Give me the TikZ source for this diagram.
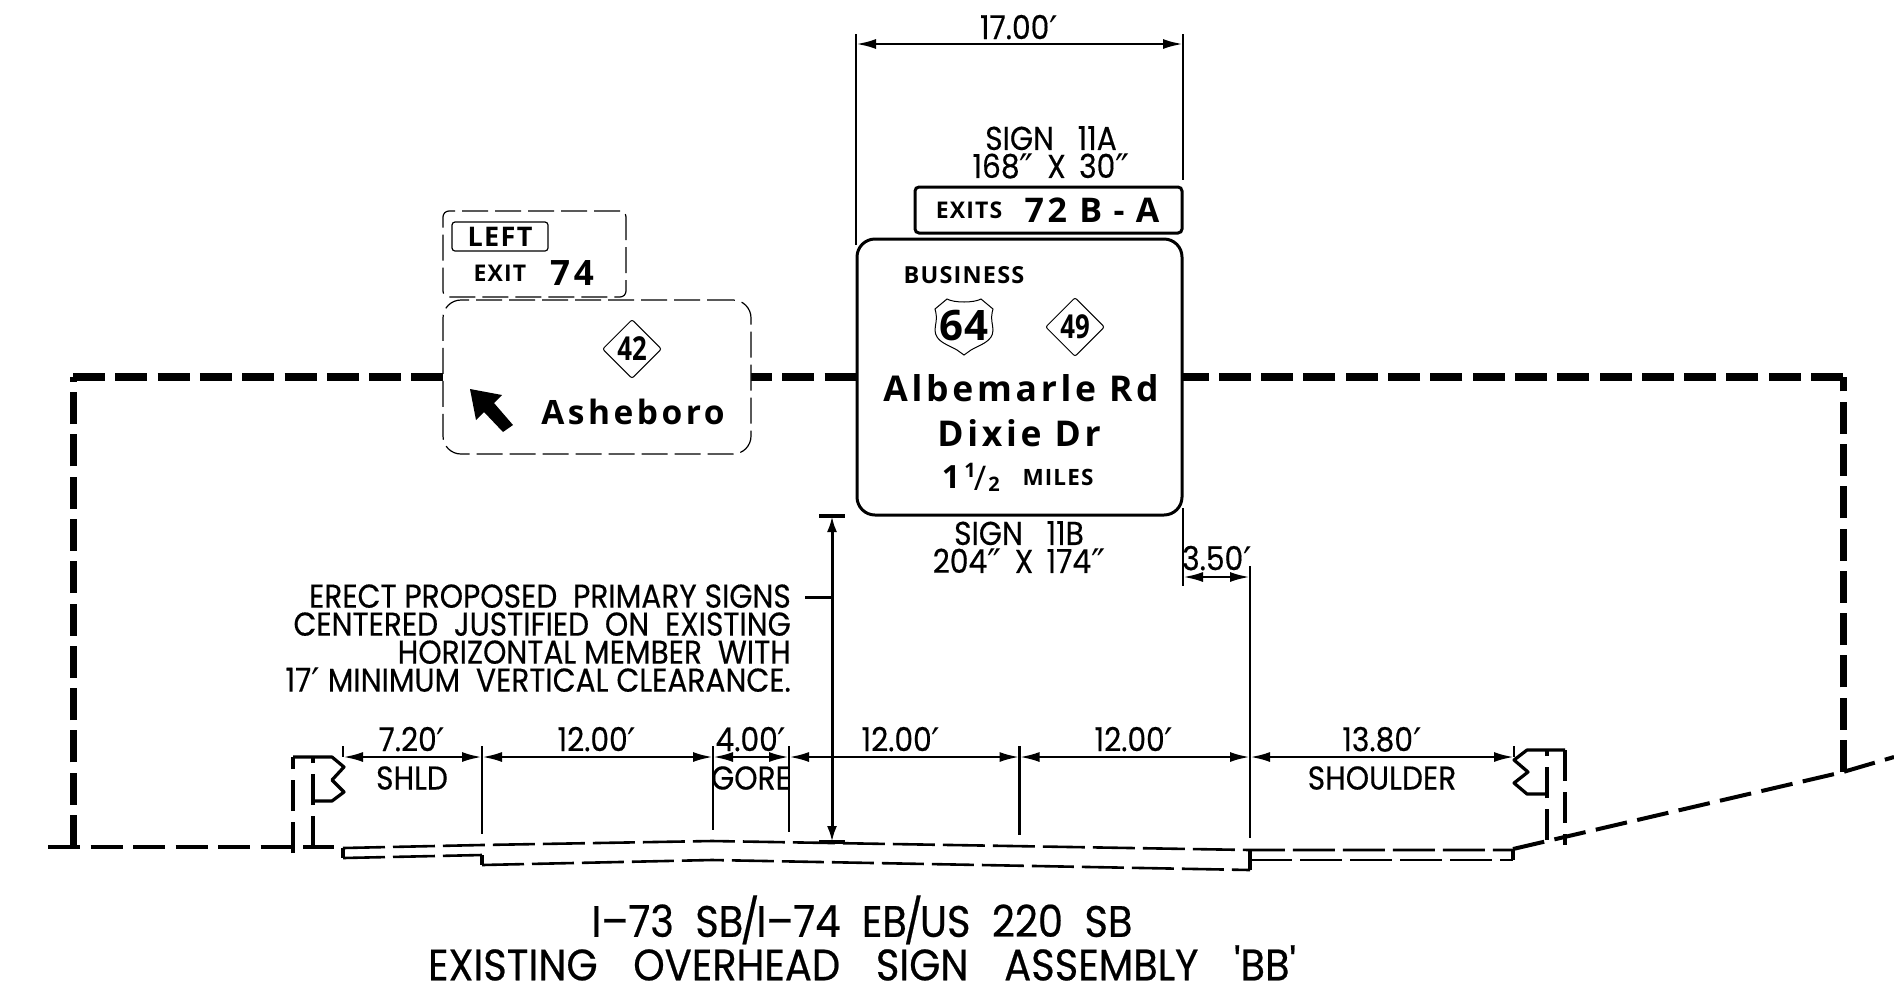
\documentclass[tikz,border=0pt]{standalone}
\usepackage{fontspec}
\usepackage{tikz}
\usetikzlibrary{shapes,arrows.meta}
\newfontfamily\notefam[FakeStretch=0.90,FakeBold=0.4]{Poppins}
\newfontfamily\titlefam[FakeStretch=0.91,FakeBold=0.5]{Poppins}
\newfontfamily\primefam{DejaVu Sans}
\newfontfamily\signfam[LetterSpace=10.5]{Open Sans}
\newfontfamily\plainfam[LetterSpace=4]{Open Sans}
\newfontfamily\routefam[FakeStretch=0.78]{Open Sans}
\newfontfamily\labelfam[LetterSpace=5]{Open Sans}
\newcommand{\notefont}[1]{\notefam\fontsize{#1}{28}\selectfont}
\newcommand{\signfont}[1]{\signfam\bfseries\fontsize{#1}{#1}\selectfont}
\newcommand{\plainfont}[1]{\plainfam\bfseries\fontsize{#1}{#1}\selectfont}
\newcommand{\smallsign}[1]{\labelfam\fontsize{#1}{#1}\selectfont\bfseries}
\newcommand{\ft}{\raisebox{-4pt}{\primefam\fontsize{38}{38}\selectfont ′}}
\newcommand{\inch}{\raisebox{-4pt}{\primefam\fontsize{38}{38}\selectfont ″}}
\tikzset{
    notetext/.style={font=\notefont{33}, inner sep=0pt, align=center},
    titletext/.style={font=\titlefam\fontsize{44}{37}\selectfont, inner sep=0pt, align=center},
    beamline/.style={line width=8pt, dash pattern=on 32pt off 10.3pt},
    columnline/.style={line width=7pt, dash pattern=on 32pt off 10.3pt},
    groundline/.style={line width=4pt, dash pattern=on 32pt off 10.5pt},
    railline/.style={line width=3.2pt, line join=round},
    railpost/.style={line width=3.2pt, dash pattern=on 31pt off 11pt},
    paveline/.style={line width=2.6pt, dash pattern=on 42pt off 8pt},
    extline/.style={line width=2.6pt},
    dimline/.style={line width=2.6pt, {Latex[length=20pt,width=10pt]}-{Latex[length=20pt,width=10pt]}},
    signbox/.style={draw, fill=white, line width=3pt, rounded corners=18pt},
    tabbox/.style={draw, fill=white, line width=3pt, rounded corners=4pt},
    ghostbox/.style={draw, fill=white, line width=1.2pt, rounded corners=18pt, dash pattern=on 26pt off 7pt},
    ghosttab/.style={draw, fill=white, line width=1.2pt, rounded corners=6pt, dash pattern=on 26pt off 7pt},
    routemark/.style={draw, fill=white, diamond, aspect=1, line width=1pt, minimum size=59pt, inner sep=0pt, rounded corners=2pt, font=\routefam\fontsize{33}{33}\selectfont\bfseries},
}
\begin{document}
\begin{tikzpicture}[x=1pt,y=-1pt]
    \useasboundingbox (0,0) rectangle (1894,994);
    \coordinate (colLb) at (73,847);
    \coordinate (colLt) at (73,377);
    \coordinate (colRt) at (1843,377);
    \coordinate (colRb) at (1843,772);
    \coordinate (beamA) at (443,377);
    \coordinate (beamB) at (751,377);
    \coordinate (beamC) at (857,377);
    \coordinate (beamD) at (1183,377);
    \draw[columnline] (colLb) -- (colLt);
    \draw[columnline] (colRb) -- (colRt);
    \draw[beamline] (colLt) -- (beamA);
    \draw[beamline, dash phase=11pt] (beamB) -- (beamC);
    \draw[beamline] (colRt) -- (beamD);

    \coordinate (gndLa) at (48,847);
    \coordinate (gndLb) at (334,847);
    \coordinate (gndRa) at (1513,849);
    \coordinate (gndRb) at (1843,772);
    \coordinate (gndRc) at (1894,757);
    \draw[groundline] (gndLa) -- (gndLb);
    \draw[groundline] (gndRa) -- (gndRb) -- (gndRc);

    \coordinate (railLa) at (293,757);
    \coordinate (railLb) at (293,853);
    \coordinate (railLc) at (313,757);
    \coordinate (railLd) at (313,847);
    \draw[railpost] (railLb) -- (railLa);
    \draw[railpost] (railLd) -- (railLc);
    \draw[railline] (railLa) -- (332,757) -- (344,767) -- (332,780) -- (344,792) -- (332,801) -- (313,801);
    \coordinate (railRa) at (1565,750);
    \coordinate (railRb) at (1565,845);
    \coordinate (railRc) at (1547,750);
    \coordinate (railRd) at (1547,840);
    \draw[railpost] (railRa) -- (railRb);
    \draw[railpost] (railRd) -- (railRc);
    \draw[railline] (railRa) -- (1527,750) -- (1514,760) -- (1528,772) -- (1514,783) -- (1527,794) -- (1547,794);

    \coordinate (paveA) at (343,848);
    \coordinate (paveB) at (482,845);
    \coordinate (paveC) at (712,841);
    \coordinate (paveD) at (1250,850);
    \coordinate (paveE) at (1513,850);
    \coordinate (paveF) at (343,858);
    \coordinate (paveG) at (482,855);
    \coordinate (paveH) at (482,865);
    \coordinate (paveI) at (712,860);
    \coordinate (paveJ) at (1250,870);
    \coordinate (paveK) at (1250,860);
    \coordinate (paveL) at (1513,860);
    \draw[paveline] (paveA) -- (paveB) -- (paveC) -- (paveD) -- (paveE);
    \draw[paveline] (paveH) -- (paveI) -- (paveJ);
    \draw[paveline] (paveF) -- (paveG);
    \draw[paveline] (paveK) -- (paveL);
    \draw[railline] (paveA) -- (paveF) (paveG) -- (paveH) (paveD) -- (paveJ) (paveE) -- (paveL);

    \node[ghosttab, minimum width=183pt, minimum height=86pt] (tabLeft) at (534.5,254) {};
    \node[draw, line width=1.2pt, rounded corners=3pt, minimum width=96pt, minimum height=29pt, inner sep=0pt, font=\smallsign{27}] (tabWord) at (500,236.5) {LEFT};
    \node[inner sep=0pt, font=\smallsign{23}] (tabExit) at (500,273) {EXIT};
    \node[inner sep=0pt, font=\signfont{35}] (tabNum) at (572,273) {74};
    \node[ghostbox, minimum width=308pt, minimum height=154pt] (signLeft) at (597,377) {};
    \node[routemark] (routeB) at (632,349) {42};
    \node[inner sep=0pt, font=\signfont{33.5}] (placeB) at (633,412) {Asheboro};
    \fill (470,389) -- (502,395) -- (494,403) -- (513,425) -- (503,432) -- (484,412) -- (476,420) -- cycle;

    \node[signbox, minimum width=325pt, minimum height=276pt] (signMain) at (1019.5,377) {};
    \node[tabbox, minimum width=267pt, minimum height=46pt] (signTab) at (1048.5,210) {};
    \node[inner sep=0pt, font=\smallsign{23}] (tabWordB) at (969,210) {EXITS};
    \node[inner sep=0pt, font=\signfont{34}] (tabNumB) at (1092,210) {72~B\,\,-\,\,A};
    \node[inner sep=0pt, font=\smallsign{23.5}] (busWord) at (964,275) {BUSINESS};
    \draw[line width=1pt, fill=white, shift={(964,327)}] (-29,-18) -- (-17,-28) .. controls (-10,-24) and (10,-24) .. (17,-28) -- (29,-18) .. controls (26,-8) and (29,-2) .. (29,3) .. controls (29,15) and (15,18) .. (7,23) -- (0,28) -- (-7,23) .. controls (-15,18) and (-29,15) .. (-29,3) .. controls (-29,-2) and (-26,-8) .. (-29,-18) -- cycle;
    \node[inner sep=0pt, font=\plainfont{42}] (routeUS) at (964,326) {64};
    \node[routemark] (routeNC) at (1075,327) {49};
    \node[inner sep=0pt, font=\signfont{35.5}] (placeA) at (1021,388) {Albemarle Rd};
    \node[inner sep=0pt, font=\signfont{35.5}] (placeC) at (1019,433) {Dixie Dr};
    \node[inner sep=0pt, font=\plainfont{32}] (milesA) at (951,477) {1};
    \node[inner sep=0pt, font=\plainfont{20}] (milesB) at (970,470) {1};
    \node[inner sep=0pt, font=\plainfam\fontsize{34}{34}\selectfont] (milesC) at (980,478) {/};
    \node[inner sep=0pt, font=\plainfont{20}] (milesD) at (994,484) {2};
    \node[inner sep=0pt, font=\smallsign{22.5}] (milesE) at (1058,477) {MILES};

    \node[notetext] (signLblA) at (1051,154) {SIGN~~~11A\\168\inch~\,X~\,30\inch};
    \node[notetext] (signLblB) at (1019,549) {SIGN~~~11B\\204\inch~\,X~\,174\inch};
    \node[notetext, align=right, anchor=east] (noteErect) at (791,640) {ERECT~PROPOSED~~PRIMARY~SIGNS\\CENTERED~~JUSTIFIED~~ON~~EXISTING\\HORIZONTAL~MEMBER~~WITH\\17\ft{} MINIMUM~~VERTICAL~CLEARANCE.};
    \node[titletext] (titleMain) at (862,938) {I–73~~SB\kern-3pt/\kern-3pt I–74~~EB\kern-3pt/\kern-3pt US~~220~~SB\\EXISTING~~~\kern3.6pt OVERHEAD~~~\kern3.6pt SIGN~~~\kern3.6pt ASSEMBLY~~~\kern3.6pt 'BB'};

    \coordinate (topA) at (856,34);
    \coordinate (topB) at (856,245);
    \coordinate (topC) at (1183,34);
    \coordinate (topD) at (1183,180);
    \coordinate (topE) at (856,44);
    \coordinate (topF) at (1183,44);
    \draw[extline] (topA) -- (topB);
    \draw[extline] (topC) -- (topD);
    \draw[dimline] (topE) -- (topF);
    \node[notetext] (lblTop) at (1019,29) {17.00\ft};

    \coordinate (sideA) at (1183,508);
    \coordinate (sideB) at (1183,586);
    \coordinate (sideC) at (1250,566);
    \coordinate (sideD) at (1250,838);
    \coordinate (sideE) at (1183,577);
    \coordinate (sideF) at (1250,577);
    \draw[extline] (sideA) -- (sideB);
    \draw[extline] (sideC) -- (sideD);
    \draw[dimline] (sideE) -- (sideF);
    \node[notetext] (lblSide) at (1217,560) {3.50\ft};

    \coordinate (clearT) at (832,516);
    \coordinate (clearB) at (832,842);
    \coordinate (leadA) at (805,597);
    \coordinate (leadB) at (832,597);
    \draw[line width=3pt, {Latex[length=16pt,width=10pt]}-{Latex[length=16pt,width=10pt]}] (clearT) -- (clearB);
    \draw[line width=3.5pt] (819,516) -- (845,516);
    \draw[line width=3.5pt] (819,842) -- (845,842);
    \draw[line width=3pt] (leadA) -- (leadB);

    \coordinate (runA) at (343,757);
    \coordinate (runB) at (482,757);
    \coordinate (runC) at (713,757);
    \coordinate (runD) at (789,757);
    \coordinate (runE) at (1019.5,757);
    \coordinate (runF) at (1250,757);
    \coordinate (runG) at (1514,757);
    \draw[dimline] (runA) -- (runB);
    \draw[dimline] (runB) -- (runC);
    \draw[dimline] (runC) -- (runD);
    \draw[dimline] (runD) -- (runE);
    \draw[dimline] (runE) -- (runF);
    \draw[dimline] (runF) -- (runG);
    \draw[extline] (343,746) -- (runA);
    \draw[extline] (482,746) -- (482,834);
    \draw[extline] (713,746) -- (713,830);
    \draw[extline] (789,746) -- (789,832);
    \draw[extline] (1019.5,746) -- (1019.5,835);
    \draw[extline] (1514,746) -- (runG);

    \node[notetext] (lblA) at (412,741) {7.20\ft};
    \node[notetext] (lblB) at (597,741) {12.00\ft};
    \node[notetext] (lblC) at (751,741) {4.00\ft};
    \node[notetext] (lblD) at (901,741) {12.00\ft};
    \node[notetext] (lblE) at (1134,741) {12.00\ft};
    \node[notetext] (lblF) at (1382,741) {13.80\ft};
    \node[notetext] (lblG) at (412,778) {SHLD};
    \node[notetext] (lblH) at (751,778) {GORE};
    \node[notetext] (lblI) at (1382,778) {SHOULDER};
\end{tikzpicture}
\end{document}
